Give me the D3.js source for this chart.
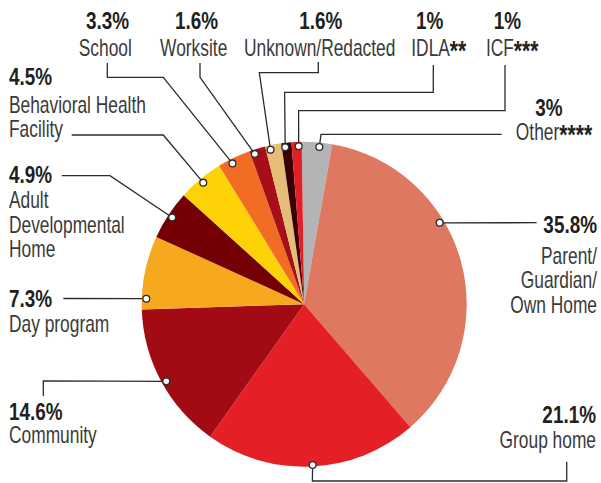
<!DOCTYPE html>
<html>
<head>
<meta charset="utf-8">
<script src="https://cdn.jsdelivr.net/npm/d3@7"></script>
<style>
  html, body { margin: 0; padding: 0; background: #fff; }
  svg { display: block; }
  .pct { font-family: "Liberation Sans", Arial, sans-serif; font-weight: bold; font-size: 23.5px; fill: #231f20; }
  .name { font-family: "Liberation Sans", Arial, sans-serif; font-size: 23px; fill: #3a3a3a; }
  .name .ast { font-weight: bold; font-size: 28px; fill: #231f20; }
</style>
</head>
<body>
<div id="chart"></div>
<script>
'use strict'

// ---- data, clockwise from 12 o'clock
let categories = ['Other****', 'Parent/Guardian/Own Home', 'Group home', 'Community', 'Day program',
  'Adult Developmental Home', 'Behavioral Health Facility', 'School', 'Worksite', 'Unknown/Redacted', 'IDLA**', 'ICF***'];
let values = [3, 35.8, 21.1, 14.6, 7.3, 4.9, 4.5, 3.3, 1.6, 1.6, 1, 1];
let labelLines = [
  ['Other****'], ['Parent/', 'Guardian/', 'Own Home'], ['Group home'], ['Community'], ['Day program'],
  ['Adult', 'Developmental', 'Home'], ['Behavioral Health', 'Facility'], ['School'], ['Worksite'],
  ['Unknown/Redacted'], ['IDLA**'], ['ICF***']
];
let colors = ['#b3b4b6', '#df7861', '#e41f26', '#a30b14', '#f6a91f', '#740004', '#fdd206',
  '#f26c23', '#a60f17', '#e5bd77', '#3b0005', '#e11f27'];

// ---- label layout (annotation placement only)
// x: name anchor x, px: percent anchor x, ys: baselines (percent first), pts: connector points before the dot
// a: dot angle override (deg), r: dot radius override
let layout = [
  {x: 554, px: 549, anchor: 'middle', ys: [115.5, 139.5], pts: [[501.7, 134.3], [321, 134.3]], a: 5.5},
  {x: 597, px: 597, anchor: 'end', ys: [232.7, 264.3, 288.3, 313.3], pts: [[536.7, 222.7]], a: 59},
  {x: 596, px: 596, anchor: 'end', ys: [423.3, 448.3], pts: [[566.7, 461.7], [566.7, 481], [312.4, 481]], a: 177, r: 161},
  {x: 9, px: 9, anchor: 'start', ys: [420, 443.3], pts: [[43.3, 396], [43.3, 380.9]], a: 240.8},
  {x: 9, px: 9, anchor: 'start', ys: [306.7, 331.7], pts: [[63.3, 298.5]], a: 272},
  {x: 9, px: 9, anchor: 'start', ys: [182.7, 208.3, 232.7, 256.7], pts: [[61.7, 175.7], [110, 175.7]]},
  {x: 9, px: 9, anchor: 'start', ys: [85, 113, 137], pts: [[71.7, 135], [163.3, 135]]},
  {x: 105.3, px: 107.5, anchor: 'middle', ys: [29, 55.7], pts: [[107.3, 63], [107.3, 77.3], [163.3, 77.3]], a: 333},
  {x: 193.7, px: 196.5, anchor: 'middle', ys: [29, 55.7], pts: [[200, 63], [200, 77.3]], a: 341.8},
  {x: 319.7, px: 320.8, anchor: 'middle', ys: [29, 55.7], pts: [[318.3, 62], [318.3, 72.7], [259.3, 72.7]], a: 347.7},
  {x: 438.8, px: 429.7, anchor: 'middle', ys: [29, 55.7], pts: [[433.3, 65], [433.3, 92.3], [284.6, 92.3]], a: 353.1},
  {x: 512.2, px: 507.5, anchor: 'middle', ys: [29, 55.7], pts: [[505, 65], [505, 110.7], [298.6, 110.7]], a: 358}
];

let width = 601, height = 483;
let cx = 304.2, cy = 304.2, radius = 162.5, dotRadius = 158;
let rot = -0.9 * Math.PI / 180;
// no narrow face installed, so squeeze the regular one
let pctSqueeze = 0.805, nameSqueeze = 0.755;

let table = categories.map(function(c, i) {
  return {name: c, value: values[i], color: colors[i], lines: labelLines[i], lay: layout[i]};
});

let svg = d3.select('#chart').append('svg')
  .attr('width', width)
  .attr('height', height);

let pie = d3.pie()
  .sort(null)
  .value(function(d) { return d.value; })
  .startAngle(rot)
  .endAngle(2 * Math.PI + rot);

let arc = d3.arc().innerRadius(0).outerRadius(radius);

let arcs = pie(table);

let g = svg.append('g').attr('transform', 'translate(' + cx + ',' + cy + ')');

g.selectAll('path.slice')
  .data(arcs)
  .enter().append('path')
  .attr('class', 'slice')
  .attr('d', arc)
  .attr('fill', function(d) { return d.data.color; });

// dot anchor for each slice
arcs.forEach(function(d) {
  let ang = d.data.lay.a !== undefined ? d.data.lay.a * Math.PI / 180 : (d.startAngle + d.endAngle) / 2;
  let r = d.data.lay.r || dotRadius;
  d.dot = [cx + r * Math.sin(ang), cy - r * Math.cos(ang)];
});

// connectors
let line = d3.line();
svg.selectAll('path.conn')
  .data(arcs)
  .enter().append('path')
  .attr('class', 'conn')
  .attr('d', function(d) { return line(d.data.lay.pts.concat([d.dot])); })
  .attr('fill', 'none')
  .attr('stroke', '#2b2b2b')
  .attr('stroke-width', 1.3);

svg.selectAll('circle.dot')
  .data(arcs)
  .enter().append('circle')
  .attr('class', 'dot')
  .attr('cx', function(d) { return d.dot[0]; })
  .attr('cy', function(d) { return d.dot[1]; })
  .attr('r', 3.4)
  .attr('fill', '#fff')
  .attr('stroke', '#2b2b2b')
  .attr('stroke-width', 1.3);

// labels
let labels = svg.selectAll('g.label')
  .data(table)
  .enter().append('g')
  .attr('class', 'label');

labels.append('text')
  .attr('class', 'pct')
  .attr('text-anchor', function(d) { return d.lay.anchor; })
  .attr('transform', function(d) { return 'translate(' + d.lay.px + ',' + d.lay.ys[0] + ') scale(' + pctSqueeze + ',1)'; })
  .text(function(d) { return d.value + '%'; });

labels.each(function(d) {
  let sel = d3.select(this);
  d.lines.forEach(function(txt, k) {
    let m = txt.match(/^(.*?)(\*+)$/);
    let t = sel.append('text')
      .attr('class', 'name')
      .attr('text-anchor', d.lay.anchor)
      .attr('transform', 'translate(' + d.lay.x + ',' + d.lay.ys[k + 1] + ') scale(' + nameSqueeze + ',1)');
    if (m) {
      t.append('tspan').text(m[1]);
      t.append('tspan').attr('class', 'ast').attr('dy', 4).text(m[2]);
    } else {
      t.text(txt);
    }
  });
});
</script>
</body>
</html>
